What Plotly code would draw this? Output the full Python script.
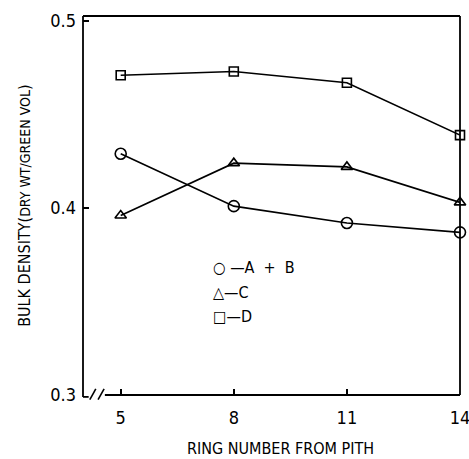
import plotly.graph_objects as go

rings = [5, 8, 11, 14]
density_ab = [0.429, 0.401, 0.392, 0.387]
density_c = [0.396, 0.424, 0.422, 0.403]
density_d = [0.471, 0.473, 0.467, 0.439]
x_ticks = [5, 8, 11, 14]
y_ticks = [0.3, 0.4, 0.5]
y_tick_text = ["0.3", "0.4", "0.5"]

FONT = "DejaVu Sans Condensed, Liberation Sans Narrow, DejaVu Sans, sans-serif"

fig = go.Figure()
series = [
    (density_ab, "circle-open", 11, "A + B"),
    (density_c, "triangle-up-open", 10, "C"),
    (density_d, "square-open", 9, "D"),
]
for vals, sym, size, name in series:
    fig.add_trace(go.Scatter(
        x=rings, y=vals, mode="lines+markers", name=name,
        line=dict(color="black", width=1.6),
        marker=dict(symbol=sym, size=size, color="black",
                    line=dict(color="black", width=1.6)),
        cliponaxis=False, showlegend=False,
    ))

fig.update_layout(
    width=469, height=459,
    margin=dict(l=83, r=9, t=16, b=64),
    paper_bgcolor="white", plot_bgcolor="white",
    font=dict(family=FONT, color="black", size=16),
    xaxis=dict(range=[4, 14], tickvals=x_ticks, ticks="inside", ticklen=6,
               tickwidth=1.5, tickcolor="black", showgrid=False, zeroline=False,
               showline=False, tickfont=dict(size=18), ticklabelstandoff=10,
               ticklabeloverflow="allow", automargin=False),
    yaxis=dict(range=[0.3, 0.5027], tickvals=y_ticks, ticktext=y_tick_text,
               ticks="inside", ticklen=6, tickwidth=1.5, tickcolor="black",
               showgrid=False, zeroline=False, showline=False, automargin=False,
               tickfont=dict(size=18), ticklabelstandoff=6),
)

# axis titles
fig.add_annotation(text="RING NUMBER FROM PITH",
                   xref="paper", yref="paper", x=0.523, y=-0.14,
                   xanchor="center", yanchor="middle", showarrow=False,
                   font=dict(size=16))
fig.add_annotation(text="BULK DENSITY(<span style='font-size:14px'>DRY WT/GREEN VOL</span>)",
                   textangle=-90, xref="paper", yref="paper", x=-0.154, y=0.499,
                   xanchor="center", yanchor="middle", showarrow=False,
                   font=dict(size=16))

# frame with broken bottom-left corner
ln = dict(color="black", width=1.8)
fig.add_shape(type="line", xref="x domain", yref="y domain", x0=0, x1=0, y0=-0.005, y1=1, line=ln)
fig.add_shape(type="line", xref="x domain", yref="y domain", x0=0, x1=1, y0=1, y1=1, line=ln)
fig.add_shape(type="line", xref="x domain", yref="y domain", x0=1, x1=1, y0=0, y1=1, line=ln)
fig.add_shape(type="line", xref="x domain", yref="y domain", x0=0, x1=0.015, y0=-0.005, y1=-0.005, line=ln)
fig.add_shape(type="line", xref="x domain", yref="y domain", x0=0.058, x1=1, y0=0, y1=0, line=ln)
for x0 in (0.018, 0.040):
    fig.add_shape(type="line", xref="x domain", yref="y domain",
                  x0=x0, x1=x0 + 0.016, y0=-0.012, y1=0.016, line=dict(color="black", width=1.6))

# key
key = ["○ —A  +  B", "△—C", "□—D"]
for i, t in enumerate(key):
    fig.add_annotation(x=7.4, y=0.368 - i * 0.013, xref="x", yref="y", text=t,
                       showarrow=False, xanchor="left", font=dict(size=16))

fig.write_html("out.html")
